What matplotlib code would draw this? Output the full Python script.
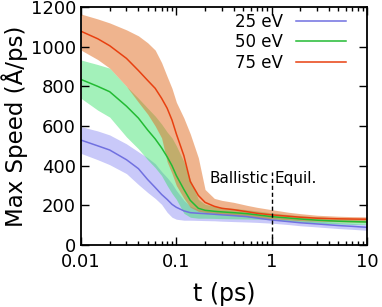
import matplotlib
matplotlib.use("Agg")
import matplotlib.pyplot as plt
from matplotlib.ticker import LogLocator, NullFormatter

t = [0.01, 0.015, 0.02, 0.03, 0.04, 0.05, 0.06, 0.07, 0.08, 0.09, 0.1, 0.12,
     0.14, 0.17, 0.2, 0.25, 0.3, 0.4, 0.55, 0.7, 1, 1.5, 2, 3, 5, 7, 10]

mean_25 = [529, 500, 479, 430, 385, 330, 290, 255, 230, 205, 190, 172,
           163, 160, 158, 155, 152, 148, 143, 136, 126, 118, 112, 106, 98, 94, 89]
upper_25 = [597, 575, 555, 510, 470, 440, 410, 370, 340, 310, 275, 225,
            195, 180, 175, 170, 167, 163, 158, 151, 141, 133, 127, 121, 113, 109, 104]
lower_25 = [462, 430, 405, 360, 305, 265, 235, 205, 165, 140, 130, 125,
            125, 124, 123, 122, 120, 118, 116, 114, 110, 103, 97, 91, 83, 79, 74]

mean_50 = [835, 800, 773, 700, 640, 580, 535, 490, 445, 400, 350, 280,
           225, 185, 175, 170, 167, 163, 158, 152, 143, 136, 131, 125, 120, 118, 116]
upper_50 = [933, 910, 892, 800, 740, 690, 650, 610, 570, 540, 500, 420,
            330, 230, 205, 195, 190, 185, 178, 172, 162, 153, 148, 142, 136, 134, 132]
lower_50 = [740, 680, 645, 545, 485, 430, 390, 350, 300, 260, 230, 160,
            140, 135, 135, 134, 133, 132, 131, 130, 128, 120, 115, 110, 106, 104, 103]

mean_75 = [1078, 1040, 1005, 941, 880, 830, 790, 740, 690, 630, 560, 450,
           320, 250, 215, 195, 185, 178, 168, 160, 152, 145, 140, 135, 132, 131, 130]
upper_75 = [1165, 1140, 1120, 1085, 1055, 1020, 983, 920, 850, 790, 720, 640,
            560, 440, 280, 235, 225, 215, 200, 190, 178, 165, 158, 150, 145, 143, 142]
lower_75 = [983, 935, 892, 800, 720, 660, 600, 540, 420, 360, 300, 235,
            190, 170, 165, 160, 155, 150, 143, 138, 132, 127, 123, 120, 117, 116, 115]

labels = ["25 eV", "50 eV", "75 eV"]

fig = plt.figure(figsize=(3.82, 3.07), dpi=100)
ax = fig.add_axes([0.212, 0.202, 0.749, 0.775])

ax.fill_between(t, lower_25, upper_25, color=(0.47, 0.47, 0.94), alpha=0.4, lw=0)
ax.fill_between(t, lower_50, upper_50, color=(0.2, 0.88, 0.4), alpha=0.45, lw=0)
ax.fill_between(t, lower_75, upper_75, color=(0.88, 0.42, 0.12), alpha=0.5, lw=0)
ax.plot(t, mean_25, color="#7070e0", lw=1.1, label=labels[0])
ax.plot(t, mean_50, color="#22bb33", lw=1.1, label=labels[1])
ax.plot(t, mean_75, color="#e84010", lw=1.1, label=labels[2])

# ballistic / equilibrium divider
ax.plot([1, 1], [0, 370], color="black", lw=1, ls=(0, (3, 2)))
ax.text(0.93, 333, "Ballistic", ha="right", va="center", fontsize=11)
ax.text(1.08, 333, "Equil.", ha="left", va="center", fontsize=11)

ax.set_xscale("log")
ax.set_xlim(0.01, 10)
ax.set_ylim(0, 1200)
ax.set_xticks([0.01, 0.1, 1, 10])
ax.set_xticklabels(["0.01", "0.1", "1", "10"])
ax.xaxis.set_minor_locator(LogLocator(subs=range(2, 10)))
ax.xaxis.set_minor_formatter(NullFormatter())
ax.set_yticks(range(0, 1201, 200))
ax.tick_params(which="both", direction="in", top=True, right=True, labelsize=13, width=1)
ax.tick_params(which="major", length=6)
ax.tick_params(which="minor", length=3)
ax.tick_params(axis="x", pad=6)
for s in ax.spines.values():
    s.set_linewidth(1.3)

ax.set_xlabel("t (ps)", fontsize=17, labelpad=8)
ax.set_ylabel("Max Speed (Å/ps)", fontsize=16.5, labelpad=2)

ax.legend(loc="upper right", bbox_to_anchor=(0.95, 1.005), frameon=False,
          markerfirst=False, fontsize=12, handlelength=3, labelspacing=0.15,
          borderaxespad=0.0)

fig.savefig("out.png", dpi=100)
